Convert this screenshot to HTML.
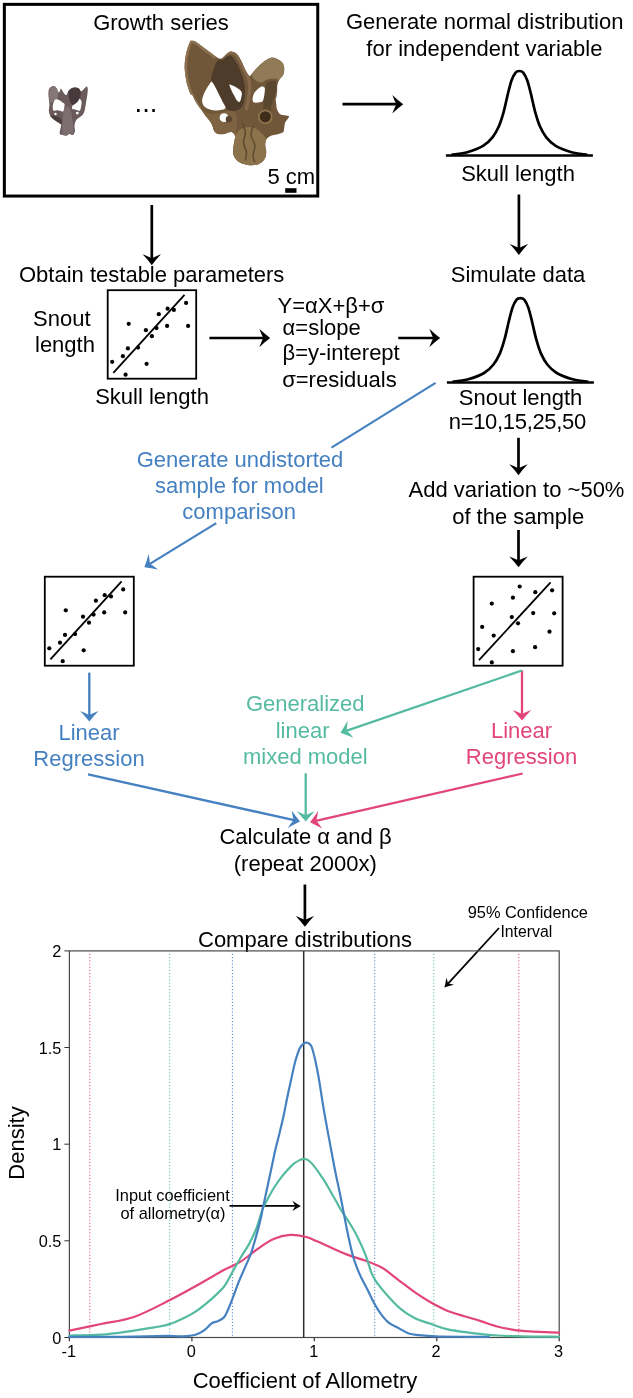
<!DOCTYPE html>
<html lang="en"><head><meta charset="utf-8"><title>Allometry simulation workflow</title>
<style>html,body{margin:0;padding:0;background:#fff}body{width:633px;height:1398px;overflow:hidden}svg{display:block}text{font-family:"Liberation Sans",sans-serif}</style></head><body>
<svg width="633" height="1398" viewBox="0 0 633 1398">
<rect width="633" height="1398" fill="#fff"/>
<rect x="4.35" y="4.35" width="313.4" height="191.7" fill="none" stroke="#000" stroke-width="3"/>
<text x="161.0" y="29.6" font-size="22.0" text-anchor="middle" fill="#000">Growth series</text>
<text x="134.6" y="112.0" font-size="27.5" text-anchor="start" fill="#000">...</text>
<text x="267.4" y="183.6" font-size="22.0" text-anchor="start" fill="#000">5 cm</text>
<rect x="285.2" y="188.2" width="11.3" height="4.6" fill="#000"/>
<g id="skull-large">
<clipPath id="skc"><path d="M190.4,40.7 C191.1,40.8 192.5,40.3 194.2,41.1 C196.0,41.9 198.5,43.8 200.9,45.4 C203.2,47.1 205.9,49.2 208.4,51.1 C211.0,53.0 214.0,55.5 216.0,56.8 C218.1,58.1 219.3,58.9 220.8,58.7 C222.2,58.5 223.3,56.9 224.5,55.9 C225.8,54.8 227.1,53.1 228.3,52.4 C229.6,51.7 230.7,51.4 232.1,51.7 C233.6,51.9 235.3,52.3 236.9,54.0 C238.5,55.6 240.2,58.9 241.6,61.5 C243.0,64.2 244.1,67.7 245.4,70.1 C246.7,72.4 248.2,75.0 249.2,75.8 C250.1,76.5 250.1,75.8 251.1,74.8 C252.0,73.9 253.5,71.7 254.9,70.1 C256.3,68.5 257.9,66.9 259.6,65.3 C261.4,63.8 263.4,61.9 265.3,60.6 C267.2,59.3 269.1,58.1 271.0,57.7 C272.9,57.4 274.8,57.9 276.7,58.7 C278.6,59.5 281.1,60.9 282.4,62.5 C283.6,64.1 284.1,66.1 284.3,68.2 C284.4,70.2 284.1,72.9 283.3,74.8 C282.5,76.7 280.5,77.9 279.5,79.5 C278.5,81.2 277.9,82.6 277.4,84.7 C277.0,86.7 277.3,89.7 277.1,91.9 C276.9,94.0 276.5,96.4 276.3,97.6 C276.1,98.7 275.7,97.6 275.7,98.8 C275.7,99.9 276.1,102.9 276.3,104.5 C276.5,106.1 276.3,106.9 276.7,108.3 C277.1,109.6 277.8,111.4 278.6,112.4 C279.4,113.5 280.2,114.2 281.4,114.7 C282.7,115.2 284.9,115.1 286.2,115.5 C287.4,115.8 289.2,115.6 289.0,116.8 C288.8,118.0 286.0,120.8 285.2,122.5 C284.4,124.2 284.6,125.6 284.3,127.2 C283.9,128.8 284.3,130.9 283.3,132.0 C282.4,133.1 280.6,133.2 278.6,133.9 C276.5,134.5 273.0,134.8 271.0,135.8 C268.9,136.7 267.2,138.0 266.3,139.5 C265.3,141.1 265.3,143.2 265.3,145.2 C265.3,147.3 266.4,149.6 266.3,151.9 C266.2,154.2 265.8,157.1 264.7,159.1 C263.7,161.0 262.0,162.4 260.0,163.4 C258.0,164.5 255.3,165.1 253.0,165.3 C250.7,165.6 248.8,165.4 246.4,164.8 C243.9,164.2 240.5,163.2 238.4,161.7 C236.3,160.3 234.7,158.0 233.8,156.0 C233.0,154.1 233.0,152.3 233.1,150.0 C233.1,147.7 233.7,144.8 234.0,142.4 C234.3,140.0 235.5,137.5 235.0,135.8 C234.5,134.0 232.9,132.3 231.2,132.0 C229.4,131.7 226.8,133.5 224.5,133.9 C222.3,134.2 219.7,134.3 217.9,133.9 C216.2,133.4 215.1,132.4 214.1,131.0 C213.2,129.6 213.0,127.1 212.2,125.3 C211.4,123.6 210.5,122.2 209.4,120.6 C208.3,119.0 207.0,117.7 205.6,115.9 C204.2,114.0 202.4,111.4 200.9,109.2 C199.3,107.0 197.5,105.0 196.1,102.6 C194.7,100.2 193.3,96.5 192.3,95.0 C191.4,93.5 191.4,95.9 190.4,93.8 C189.5,91.7 187.6,86.5 186.6,82.4 C185.7,78.3 185.0,73.2 184.7,69.1 C184.5,65.0 184.8,61.2 185.3,57.7 C185.8,54.3 186.7,51.1 187.6,48.3 C188.4,45.4 190.0,42.0 190.4,40.7 Z"/></clipPath>
<path d="M190.4,40.7 C191.1,40.8 192.5,40.3 194.2,41.1 C196.0,41.9 198.5,43.8 200.9,45.4 C203.2,47.1 205.9,49.2 208.4,51.1 C211.0,53.0 214.0,55.5 216.0,56.8 C218.1,58.1 219.3,58.9 220.8,58.7 C222.2,58.5 223.3,56.9 224.5,55.9 C225.8,54.8 227.1,53.1 228.3,52.4 C229.6,51.7 230.7,51.4 232.1,51.7 C233.6,51.9 235.3,52.3 236.9,54.0 C238.5,55.6 240.2,58.9 241.6,61.5 C243.0,64.2 244.1,67.7 245.4,70.1 C246.7,72.4 248.2,75.0 249.2,75.8 C250.1,76.5 250.1,75.8 251.1,74.8 C252.0,73.9 253.5,71.7 254.9,70.1 C256.3,68.5 257.9,66.9 259.6,65.3 C261.4,63.8 263.4,61.9 265.3,60.6 C267.2,59.3 269.1,58.1 271.0,57.7 C272.9,57.4 274.8,57.9 276.7,58.7 C278.6,59.5 281.1,60.9 282.4,62.5 C283.6,64.1 284.1,66.1 284.3,68.2 C284.4,70.2 284.1,72.9 283.3,74.8 C282.5,76.7 280.5,77.9 279.5,79.5 C278.5,81.2 277.9,82.6 277.4,84.7 C277.0,86.7 277.3,89.7 277.1,91.9 C276.9,94.0 276.5,96.4 276.3,97.6 C276.1,98.7 275.7,97.6 275.7,98.8 C275.7,99.9 276.1,102.9 276.3,104.5 C276.5,106.1 276.3,106.9 276.7,108.3 C277.1,109.6 277.8,111.4 278.6,112.4 C279.4,113.5 280.2,114.2 281.4,114.7 C282.7,115.2 284.9,115.1 286.2,115.5 C287.4,115.8 289.2,115.6 289.0,116.8 C288.8,118.0 286.0,120.8 285.2,122.5 C284.4,124.2 284.6,125.6 284.3,127.2 C283.9,128.8 284.3,130.9 283.3,132.0 C282.4,133.1 280.6,133.2 278.6,133.9 C276.5,134.5 273.0,134.8 271.0,135.8 C268.9,136.7 267.2,138.0 266.3,139.5 C265.3,141.1 265.3,143.2 265.3,145.2 C265.3,147.3 266.4,149.6 266.3,151.9 C266.2,154.2 265.8,157.1 264.7,159.1 C263.7,161.0 262.0,162.4 260.0,163.4 C258.0,164.5 255.3,165.1 253.0,165.3 C250.7,165.6 248.8,165.4 246.4,164.8 C243.9,164.2 240.5,163.2 238.4,161.7 C236.3,160.3 234.7,158.0 233.8,156.0 C233.0,154.1 233.0,152.3 233.1,150.0 C233.1,147.7 233.7,144.8 234.0,142.4 C234.3,140.0 235.5,137.5 235.0,135.8 C234.5,134.0 232.9,132.3 231.2,132.0 C229.4,131.7 226.8,133.5 224.5,133.9 C222.3,134.2 219.7,134.3 217.9,133.9 C216.2,133.4 215.1,132.4 214.1,131.0 C213.2,129.6 213.0,127.1 212.2,125.3 C211.4,123.6 210.5,122.2 209.4,120.6 C208.3,119.0 207.0,117.7 205.6,115.9 C204.2,114.0 202.4,111.4 200.9,109.2 C199.3,107.0 197.5,105.0 196.1,102.6 C194.7,100.2 193.3,96.5 192.3,95.0 C191.4,93.5 191.4,95.9 190.4,93.8 C189.5,91.7 187.6,86.5 186.6,82.4 C185.7,78.3 185.0,73.2 184.7,69.1 C184.5,65.0 184.8,61.2 185.3,57.7 C185.8,54.3 186.7,51.1 187.6,48.3 C188.4,45.4 190.0,42.0 190.4,40.7 Z" fill="#715739"/>
<g clip-path="url(#skc)">
<path d="M199.9,110.8 C198.3,108.0 192.6,98.5 190.4,93.8 C188.2,89.0 187.6,86.5 186.6,82.4 C185.7,78.3 185.0,73.2 184.7,69.1 C184.5,65.0 184.8,61.2 185.3,57.7 C185.8,54.3 186.7,51.1 187.6,48.3 C188.4,45.4 189.3,41.9 190.4,40.7 C191.5,39.5 192.5,40.3 194.2,41.1 C196.0,41.9 198.5,43.8 200.9,45.4 C203.2,47.1 205.9,49.2 208.4,51.1 C211.0,53.0 214.8,55.9 216.0,56.8" fill="none" stroke="#8d7050" stroke-width="5"/>
<path d="M200.9,109.2 C202.7,110.0 207.5,113.6 212.2,114.0 C217.0,114.3 225.2,110.8 229.3,111.1 C233.4,111.4 235.9,111.7 236.9,115.9 C237.8,120.0 235.9,133.1 235.0,135.8 C234.0,138.4 232.9,132.3 231.2,132.0 C229.4,131.7 226.8,133.5 224.5,133.9 C222.3,134.2 219.7,134.3 217.9,133.9 C216.2,133.4 215.1,132.4 214.1,131.0 C213.2,129.6 213.0,127.1 212.2,125.3 C211.4,123.6 211.3,123.3 209.4,120.6 C207.5,117.9 202.3,111.1 200.9,109.2 Z" fill="#7d6342"/>
<path d="M220.8,59.3 C220.1,59.6 218.1,59.9 217.0,61.5 C215.8,63.2 214.7,66.0 213.7,69.1 C212.8,72.3 210.6,76.4 211.3,80.5 C212.0,84.6 215.5,89.1 217.9,93.8 C220.3,98.4 222.3,105.8 225.5,108.6 C228.7,111.3 233.9,111.3 236.9,110.5 C239.9,109.6 242.2,107.3 243.5,103.2 C244.8,99.2 245.2,91.1 244.8,86.2 C244.5,81.3 242.9,77.7 241.6,73.9 C240.3,70.1 238.6,66.4 236.9,63.4 C235.1,60.4 233.1,57.0 231.2,55.9 C229.3,54.7 227.2,56.2 225.5,56.8 C223.8,57.4 221.5,58.9 220.8,59.3 Z" fill="#4e3c2b"/>
<path d="M222.1,58.1 C222.7,57.6 224.4,55.9 225.5,55.1 C226.6,54.2 227.7,53.5 228.9,53.0 C230.1,52.6 231.4,52.0 232.7,52.4 C234.0,52.9 235.5,53.8 236.9,55.5 C238.3,57.1 239.7,59.9 241.0,62.5 C242.4,65.1 243.6,68.5 244.8,71.0 C246.0,73.5 247.4,75.1 248.2,77.7 C249.1,80.2 249.7,82.9 249.8,86.2 C249.8,89.5 249.2,93.8 248.6,97.6 C248.1,101.4 246.7,107.0 246.4,108.9" fill="none" stroke="#86694a" stroke-width="3.2" stroke-linecap="round"/>
<path d="M254.9,70.1 C255.7,69.3 257.9,66.9 259.6,65.3 C261.4,63.8 263.4,61.9 265.3,60.6 C267.2,59.3 269.1,58.1 271.0,57.7 C272.9,57.4 274.8,57.9 276.7,58.7 C278.6,59.5 281.1,60.9 282.4,62.5 C283.6,64.1 284.1,66.1 284.3,68.2 C284.4,70.2 284.1,72.9 283.3,74.8 C282.5,76.7 280.9,78.9 279.5,79.5 C278.1,80.2 276.8,78.6 274.8,78.6 C272.7,78.6 269.4,78.9 267.2,79.5 C265.0,80.2 263.4,82.2 261.5,82.4 C259.6,82.6 257.4,81.6 255.8,80.5 C254.2,79.4 252.2,77.5 252.0,75.8 C251.9,74.0 254.4,71.0 254.9,70.1 Z" fill="#917a58"/>
<path d="M266.3,82.4 C267.7,82.1 273.0,80.0 274.8,80.5 C276.5,81.0 276.5,83.3 276.7,85.2 C276.8,87.1 276.2,89.7 275.7,91.9 C275.3,94.1 274.6,96.0 273.8,98.5 C273.0,101.0 271.8,104.4 271.0,107.0 C270.2,109.7 270.4,113.4 269.1,114.6 C267.8,115.9 264.4,116.2 263.4,114.6 C262.5,113.0 263.3,108.6 263.4,105.1 C263.6,101.7 263.9,97.6 264.4,93.8 C264.8,90.0 265.9,84.3 266.3,82.4 Z" fill="#5b4630"/>
<path d="M235.0,135.8 C235.9,134.7 237.8,130.5 240.7,129.1 C243.5,127.7 248.6,126.6 252.0,127.2 C255.5,127.9 259.1,130.9 261.5,132.9 C263.9,135.0 265.6,137.5 266.3,139.5 C266.9,141.6 265.3,143.2 265.3,145.2 C265.3,147.3 266.4,149.6 266.3,151.9 C266.2,154.2 265.8,157.1 264.7,159.1 C263.7,161.0 262.0,162.4 260.0,163.4 C258.0,164.5 255.3,165.1 253.0,165.3 C250.7,165.6 248.8,165.4 246.4,164.8 C243.9,164.2 240.5,163.2 238.4,161.7 C236.3,160.3 234.7,158.0 233.8,156.0 C233.0,154.1 233.0,152.3 233.1,150.0 C233.1,147.7 233.7,144.8 234.0,142.4 C234.3,140.0 234.8,136.9 235.0,135.8 Z" fill="#8c734c"/>
<path d="M242.6,123.4 C243.0,125.0 245.2,129.8 245.4,132.9 C245.6,136.1 243.3,139.2 243.5,142.4 C243.7,145.6 246.0,148.9 246.4,151.9 C246.7,154.9 245.6,159.0 245.4,160.4" fill="none" stroke="#5e4a30" stroke-width="1.6"/>
<path d="M253.0,125.3 C252.7,127.1 250.8,132.4 251.1,135.8 C251.4,139.1 254.6,141.9 254.9,145.2 C255.2,148.6 253.0,152.8 253.0,155.7 C253.0,158.5 254.6,161.2 254.9,162.3" fill="none" stroke="#5e4a30" stroke-width="1.4"/>
</g>
<path d="M211.4,81.4 C210.6,82.4 208.4,85.5 207.1,87.8 C205.8,90.0 204.4,92.7 203.5,94.9 C202.7,97.0 202.1,98.8 202.1,100.6 C202.1,102.3 202.5,104.1 203.5,105.5 C204.6,106.9 206.6,108.3 208.5,109.1 C210.4,109.9 212.7,110.4 214.9,110.5 C217.2,110.6 220.2,110.3 222.0,109.8 C223.8,109.3 225.5,109.0 225.6,107.7 C225.7,106.4 223.8,104.1 222.7,102.0 C221.7,99.8 220.4,97.2 219.2,94.9 C218.0,92.5 216.7,89.8 215.6,87.8 C214.6,85.7 213.5,83.8 212.8,82.8 C212.1,81.7 211.6,81.6 211.4,81.4 Z" fill="#fff"/>
<path d="M229.1,84.2 C229.5,85.1 230.4,88.0 231.3,89.9 C232.1,91.8 233.2,93.8 234.1,95.6 C235.1,97.3 236.0,99.5 236.9,100.6 C237.9,101.6 239.1,102.2 239.8,101.7 C240.5,101.2 240.9,99.1 241.2,97.7 C241.6,96.3 242.0,94.6 241.9,93.4 C241.8,92.3 241.3,91.5 240.5,90.6 C239.7,89.7 238.2,88.6 236.9,87.8 C235.6,86.9 234.0,86.2 232.7,85.6 C231.4,85.0 229.7,84.4 229.1,84.2 Z" fill="#fff"/>
<path d="M261.8,86.3 C261.1,86.8 258.9,88.0 257.6,89.2 C256.3,90.4 254.8,91.9 254.0,93.4 C253.2,95.0 252.7,97.0 252.6,98.4 C252.5,99.8 252.7,101.3 253.3,102.0 C253.9,102.7 255.1,102.6 256.1,102.7 C257.2,102.7 258.6,102.5 259.7,102.3 C260.8,102.0 261.8,102.1 262.5,101.3 C263.3,100.4 263.6,98.5 264.0,97.0 C264.3,95.5 264.5,93.6 264.7,92.0 C264.8,90.5 265.1,88.7 264.7,87.8 C264.2,86.8 262.3,86.6 261.8,86.3 Z" fill="#fff"/>
<circle cx="224.0" cy="117.7" r="4.4" fill="#fff"/>
<circle cx="228.9" cy="119.3" r="3.2" fill="#5a4630"/>
<circle cx="265.3" cy="116.8" r="6.4" fill="#3f2d1c" stroke="#93784f" stroke-width="1.6"/>
</g>
<g id="skull-small">
<path d="M50.8,87.0 C51.3,86.8 52.7,85.9 53.6,86.1 C54.6,86.2 55.7,86.9 56.5,88.0 C57.3,89.0 57.8,91.7 58.4,92.2 C58.9,92.8 59.4,91.9 59.8,91.3 C60.2,90.6 60.4,88.6 60.7,88.4 C61.1,88.3 61.6,89.5 62.2,90.3 C62.7,91.2 63.4,92.8 64.1,93.6 C64.8,94.4 65.7,95.5 66.4,95.1 C67.1,94.7 67.5,92.4 68.3,91.3 C69.1,90.2 70.1,89.1 71.2,88.4 C72.3,87.8 73.7,87.5 75.0,87.5 C76.2,87.5 77.7,87.8 78.8,88.4 C79.8,89.1 80.3,91.1 81.1,91.3 C81.9,91.4 82.5,90.2 83.5,89.4 C84.4,88.6 86.1,86.5 86.8,86.5 C87.5,86.5 87.7,88.0 87.8,89.4 C87.8,90.8 87.5,93.2 87.3,95.1 C87.1,97.0 86.7,98.9 86.3,100.7 C86.0,102.6 85.7,104.7 85.4,106.4 C85.1,108.2 84.9,109.8 84.4,111.2 C84.0,112.6 83.5,113.9 82.5,115.0 C81.6,116.1 79.9,116.9 78.8,117.8 C77.7,118.8 76.6,119.4 75.9,120.7 C75.2,121.9 74.7,123.7 74.5,125.4 C74.3,127.1 75.2,129.5 75.0,131.1 C74.7,132.7 74.0,134.4 73.1,134.9 C72.1,135.3 70.4,133.8 69.3,133.9 C68.2,134.1 67.5,135.7 66.4,135.8 C65.3,136.0 63.8,135.2 62.6,134.9 C61.5,134.6 60.2,134.9 59.8,133.9 C59.4,133.0 60.0,130.8 60.3,129.2 C60.5,127.6 61.5,125.6 61.2,124.4 C60.9,123.3 59.6,123.3 58.4,122.5 C57.2,121.8 55.5,120.8 54.1,119.7 C52.8,118.6 51.2,117.3 50.3,115.9 C49.5,114.5 49.1,112.9 48.9,111.2 C48.7,109.4 49.4,107.4 49.4,105.5 C49.4,103.6 49.1,101.7 48.9,99.8 C48.7,97.9 48.4,95.9 48.4,94.1 C48.4,92.4 48.5,90.6 48.9,89.4 C49.3,88.2 50.5,87.4 50.8,87.0 Z" fill="#6a5a5c"/>
<path d="M68.3,91.3 C68.8,90.8 70.1,89.1 71.2,88.4 C72.3,87.8 73.7,87.5 75.0,87.5 C76.2,87.5 77.8,87.6 78.8,88.4 C79.7,89.2 80.5,90.6 80.7,92.2 C80.8,93.9 80.3,96.6 79.7,98.4 C79.1,100.1 77.9,101.5 76.9,102.6 C75.8,103.8 74.5,104.9 73.5,105.0 C72.6,105.2 71.9,104.6 71.2,103.6 C70.5,102.6 69.8,100.9 69.3,98.9 C68.8,96.8 68.5,92.5 68.3,91.3 Z" fill="#463a3d"/>
<path d="M50.8,87.5 C51.3,87.3 52.7,86.4 53.6,86.5 C54.6,86.7 55.7,87.4 56.5,88.4 C57.2,89.5 57.9,91.0 58.1,92.7 C58.3,94.4 58.0,97.3 57.4,98.4 C56.8,99.5 55.5,98.6 54.6,99.3 C53.7,100.0 53.0,102.2 52.2,102.6 C51.4,103.0 50.4,103.1 49.8,101.7 C49.3,100.3 49.0,96.5 49.2,94.1 C49.3,91.7 50.5,88.6 50.8,87.5 Z" fill="#857679"/>
<path d="M63.6,109.3 C64.2,108.8 66.2,106.3 67.4,106.4 C68.6,106.6 69.9,108.3 70.7,110.2 C71.5,112.1 71.7,115.3 72.1,117.8 C72.5,120.3 72.8,122.9 73.1,125.4 C73.3,127.9 74.2,131.6 73.5,133.0 C72.9,134.3 70.5,133.1 69.3,133.5 C68.1,133.8 67.5,134.8 66.4,134.9 C65.4,135.0 63.5,135.5 62.8,133.9 C62.1,132.3 62.2,128.1 62.2,125.4 C62.2,122.7 62.6,120.5 62.8,117.8 C63.1,115.1 63.5,110.7 63.6,109.3 Z" fill="#7d6e70"/>
<path d="M50.3,115.9 C51.0,116.5 52.8,118.6 54.1,119.7 C55.5,120.8 57.2,121.8 58.4,122.5 C59.6,123.3 60.7,124.9 61.2,124.4 C61.8,124.0 62.2,121.0 61.7,119.7 C61.2,118.4 59.6,117.6 58.4,116.9 C57.1,116.2 55.5,115.6 54.1,115.4 C52.8,115.3 51.0,115.8 50.3,115.9 Z" fill="#4b3e41"/>
<path d="M54.6,99.8 C54.4,100.4 53.5,102.3 53.2,103.6 C52.8,104.9 52.6,106.2 52.7,107.4 C52.8,108.6 52.9,110.2 53.6,110.7 C54.4,111.2 55.9,110.2 57.0,110.2 C58.1,110.2 59.2,110.5 60.3,110.7 C61.3,110.9 62.5,112.0 63.1,111.6 C63.8,111.3 63.8,109.6 64.1,108.3 C64.3,107.1 64.9,105.1 64.5,104.1 C64.2,103.0 63.0,102.8 62.2,102.2 C61.3,101.5 60.3,100.7 59.3,100.3 C58.4,99.8 57.3,99.4 56.5,99.3 C55.7,99.2 54.9,99.7 54.6,99.8 Z" fill="#fff"/>
<path d="M79.7,98.4 C79.2,99.1 77.9,101.5 76.9,102.6 C75.8,103.8 74.3,104.4 73.5,105.0 C72.8,105.6 72.3,105.7 72.1,106.4 C72.0,107.1 72.0,108.7 72.6,109.3 C73.2,109.8 74.7,109.5 75.9,109.8 C77.1,110.0 78.8,111.3 79.7,110.7 C80.6,110.1 80.8,107.9 81.1,106.4 C81.4,104.9 81.8,103.0 81.6,101.7 C81.4,100.4 80.0,98.9 79.7,98.4 Z" fill="#fff"/>
<circle cx="55.5" cy="114.0" r="1.2" fill="#fff"/>
<circle cx="77.3" cy="113.1" r="1.4" fill="#fff"/>
</g>
<path d="M451.5,154.8 C454.1,154.3 462.0,153.7 467.3,152.2 C472.5,150.8 478.9,148.4 483.1,145.9 C487.3,143.4 489.9,140.7 492.5,137.4 C495.2,134.1 497.0,130.5 498.9,126.3 C500.7,122.1 502.1,117.4 503.6,112.1 C505.1,106.8 506.4,100.0 507.7,94.7 C509.0,89.5 510.2,84.2 511.5,80.5 C512.8,76.8 514.3,74.2 515.6,72.6 C516.9,71.0 518.1,71.0 519.4,71.0 C520.7,71.0 521.9,71.0 523.2,72.6 C524.5,74.2 526.0,76.8 527.3,80.5 C528.6,84.2 529.8,89.5 531.1,94.7 C532.4,100.0 533.7,106.8 535.2,112.1 C536.7,117.4 538.1,122.1 539.9,126.3 C541.8,130.5 543.6,134.1 546.3,137.4 C548.9,140.7 551.5,143.4 555.7,145.9 C559.9,148.4 566.3,150.8 571.5,152.2 C576.8,153.7 584.7,154.3 587.3,154.8" fill="none" stroke="#000" stroke-width="2.7" stroke-linejoin="round"/>
<line x1="445.9" y1="155.4" x2="592.9" y2="155.4" stroke="#000" stroke-width="2.5"/>
<path d="M452.5,381.9 C455.1,381.4 463.0,380.8 468.3,379.3 C473.5,377.9 479.9,375.5 484.1,373.0 C488.3,370.5 490.9,367.8 493.5,364.5 C496.2,361.2 498.0,357.6 499.9,353.4 C501.7,349.2 503.1,344.5 504.6,339.2 C506.1,333.9 507.4,327.1 508.7,321.8 C510.0,316.6 511.2,311.3 512.5,307.6 C513.8,303.9 515.3,301.3 516.6,299.7 C517.9,298.1 519.1,298.1 520.4,298.1 C521.7,298.1 522.9,298.1 524.2,299.7 C525.5,301.3 527.0,303.9 528.3,307.6 C529.6,311.3 530.8,316.6 532.1,321.8 C533.4,327.1 534.7,333.9 536.2,339.2 C537.7,344.5 539.1,349.2 540.9,353.4 C542.8,357.6 544.6,361.2 547.3,364.5 C549.9,367.8 552.5,370.5 556.7,373.0 C560.9,375.5 567.3,377.9 572.5,379.3 C577.8,380.8 585.7,381.4 588.3,381.9" fill="none" stroke="#000" stroke-width="2.7" stroke-linejoin="round"/>
<line x1="446.9" y1="382.5" x2="593.9" y2="382.5" stroke="#000" stroke-width="2.5"/>
<text x="484.7" y="29.4" font-size="22.0" text-anchor="middle" fill="#000">Generate normal distribution</text>
<text x="484.4" y="56.0" font-size="22.0" text-anchor="middle" fill="#000">for independent variable</text>
<text x="518.0" y="180.5" font-size="22.0" text-anchor="middle" fill="#000">Skull length</text>
<text x="19.0" y="282.0" font-size="22.0" text-anchor="start" fill="#000">Obtain testable parameters</text>
<text x="518.0" y="282.0" font-size="22.0" text-anchor="middle" fill="#000">Simulate data</text>
<text x="33.0" y="325.7" font-size="22.0" text-anchor="start" fill="#000">Snout</text>
<text x="35.0" y="352.3" font-size="22.0" text-anchor="start" fill="#000">length</text>
<text x="152.0" y="404.0" font-size="22.0" text-anchor="middle" fill="#000">Skull length</text>
<text x="277.5" y="313.1" font-size="22.0" text-anchor="start" fill="#000">Y=αX+β+σ</text>
<text x="282.6" y="335.1" font-size="22.0" text-anchor="start" fill="#000">α=slope</text>
<text x="282.5" y="360.4" font-size="22.0" text-anchor="start" fill="#000">β=y-interept</text>
<text x="282.2" y="386.5" font-size="22.0" text-anchor="start" fill="#000">σ=residuals</text>
<text x="520.6" y="404.6" font-size="22.0" text-anchor="middle" fill="#000">Snout length</text>
<text x="517.5" y="428.6" font-size="22.0" text-anchor="middle" fill="#000" textLength="137.5">n=10,15,25,50</text>
<text x="240.0" y="466.5" font-size="22.0" text-anchor="middle" fill="#4580c0">Generate undistorted</text>
<text x="239.4" y="492.5" font-size="22.0" text-anchor="middle" fill="#4580c0">sample for model</text>
<text x="239.2" y="519.3" font-size="22.0" text-anchor="middle" fill="#4580c0">comparison</text>
<text x="516.5" y="497.0" font-size="22.0" text-anchor="middle" fill="#000">Add variation to ~50%</text>
<text x="518.2" y="523.6" font-size="22.0" text-anchor="middle" fill="#000">of the sample</text>
<text x="89.0" y="739.6" font-size="22.0" text-anchor="middle" fill="#4580c0">Linear</text>
<text x="89.0" y="766.0" font-size="22.0" text-anchor="middle" fill="#4580c0">Regression</text>
<text x="305.3" y="711.2" font-size="22.0" text-anchor="middle" fill="#55bba0">Generalized</text>
<text x="302.6" y="738.0" font-size="22.0" text-anchor="middle" fill="#55bba0">linear</text>
<text x="305.3" y="764.3" font-size="22.0" text-anchor="middle" fill="#55bba0">mixed model</text>
<text x="521.5" y="738.3" font-size="22.0" text-anchor="middle" fill="#e2457b">Linear</text>
<text x="521.5" y="763.8" font-size="22.0" text-anchor="middle" fill="#e2457b">Regression</text>
<text x="305.5" y="844.0" font-size="22.0" text-anchor="middle" fill="#000">Calculate α and β</text>
<text x="305.3" y="870.5" font-size="22.0" text-anchor="middle" fill="#000">(repeat 2000x)</text>
<text x="305.0" y="947.0" font-size="22.0" text-anchor="middle" fill="#000">Compare distributions</text>
<text x="527.8" y="917.5" font-size="16.4" text-anchor="middle" fill="#000">95% Confidence</text>
<text x="526.3" y="937.3" font-size="15.8" text-anchor="middle" fill="#000">Interval</text>
<text x="172.5" y="1200.6" font-size="16.4" text-anchor="middle" fill="#000">Input coefficient</text>
<text x="173.0" y="1218.9" font-size="16.4" text-anchor="middle" fill="#000">of allometry(α)</text>
<text x="305.0" y="1388.0" font-size="22.0" text-anchor="middle" fill="#000">Coefficient of Allometry</text>
<text transform="translate(23.6,1143) rotate(-90)" font-size="22" text-anchor="middle">Density</text>
<g transform="translate(107.7,290.2)">
<rect x="0" y="0" width="88.5" height="88.5" fill="#fff" stroke="#000" stroke-width="1.8"/>
<line x1="5.6" y1="82.7" x2="76.8" y2="4.6" stroke="#000" stroke-width="1.8"/>
<circle cx="78.4" cy="12.7" r="2.1" fill="#000"/>
<circle cx="59.9" cy="18.5" r="2.1" fill="#000"/>
<circle cx="66.2" cy="19.7" r="2.1" fill="#000"/>
<circle cx="51.1" cy="24.0" r="2.1" fill="#000"/>
<circle cx="21.0" cy="33.6" r="2.1" fill="#000"/>
<circle cx="59.4" cy="35.7" r="2.1" fill="#000"/>
<circle cx="80.4" cy="35.7" r="2.1" fill="#000"/>
<circle cx="38.2" cy="40.0" r="2.1" fill="#000"/>
<circle cx="48.8" cy="37.9" r="2.1" fill="#000"/>
<circle cx="44.2" cy="46.0" r="2.1" fill="#000"/>
<circle cx="20.2" cy="58.2" r="2.1" fill="#000"/>
<circle cx="30.3" cy="57.4" r="2.1" fill="#000"/>
<circle cx="15.2" cy="66.0" r="2.1" fill="#000"/>
<circle cx="4.5" cy="71.6" r="2.1" fill="#000"/>
<circle cx="38.9" cy="73.6" r="2.1" fill="#000"/>
<circle cx="17.9" cy="84.5" r="2.1" fill="#000"/>
</g>
<g transform="translate(44.8,576.7)">
<rect x="0" y="0" width="89.0" height="89.0" fill="#fff" stroke="#000" stroke-width="1.8"/>
<line x1="5.6" y1="82.7" x2="76.8" y2="4.6" stroke="#000" stroke-width="1.8"/>
<circle cx="78.4" cy="12.7" r="2.1" fill="#000"/>
<circle cx="59.9" cy="18.5" r="2.1" fill="#000"/>
<circle cx="66.2" cy="19.7" r="2.1" fill="#000"/>
<circle cx="51.1" cy="24.0" r="2.1" fill="#000"/>
<circle cx="21.0" cy="33.6" r="2.1" fill="#000"/>
<circle cx="59.4" cy="35.7" r="2.1" fill="#000"/>
<circle cx="80.4" cy="35.7" r="2.1" fill="#000"/>
<circle cx="38.2" cy="40.0" r="2.1" fill="#000"/>
<circle cx="48.8" cy="37.9" r="2.1" fill="#000"/>
<circle cx="44.2" cy="46.0" r="2.1" fill="#000"/>
<circle cx="20.2" cy="58.2" r="2.1" fill="#000"/>
<circle cx="30.3" cy="57.4" r="2.1" fill="#000"/>
<circle cx="15.2" cy="66.0" r="2.1" fill="#000"/>
<circle cx="4.5" cy="71.6" r="2.1" fill="#000"/>
<circle cx="38.9" cy="73.6" r="2.1" fill="#000"/>
<circle cx="17.9" cy="84.5" r="2.1" fill="#000"/>
</g>
<g transform="translate(473.6,576.7)">
<rect x="0" y="0" width="89.0" height="89.0" fill="#fff" stroke="#000" stroke-width="1.8"/>
<line x1="5.4" y1="83.4" x2="77.0" y2="5.7" stroke="#000" stroke-width="1.8"/>
<circle cx="46.1" cy="9.8" r="2.1" fill="#000"/>
<circle cx="61.7" cy="15.5" r="2.1" fill="#000"/>
<circle cx="78.5" cy="13.6" r="2.1" fill="#000"/>
<circle cx="39.3" cy="21.0" r="2.1" fill="#000"/>
<circle cx="18.2" cy="26.9" r="2.1" fill="#000"/>
<circle cx="59.6" cy="36.4" r="2.1" fill="#000"/>
<circle cx="80.6" cy="36.6" r="2.1" fill="#000"/>
<circle cx="38.2" cy="40.4" r="2.1" fill="#000"/>
<circle cx="44.4" cy="46.6" r="2.1" fill="#000"/>
<circle cx="8.6" cy="50.2" r="2.1" fill="#000"/>
<circle cx="75.9" cy="55.0" r="2.1" fill="#000"/>
<circle cx="20.1" cy="58.9" r="2.1" fill="#000"/>
<circle cx="61.5" cy="70.5" r="2.1" fill="#000"/>
<circle cx="4.6" cy="72.4" r="2.1" fill="#000"/>
<circle cx="39.3" cy="74.5" r="2.1" fill="#000"/>
<circle cx="18.2" cy="85.7" r="2.1" fill="#000"/>
</g>
<line x1="342.5" y1="104.2" x2="396.8" y2="104.2" stroke="#000" stroke-width="2.70"/>
<path d="M403.2,104.2 Q397.8,108.1 392.3,113.4 Q394.3,108.1 396.3,104.2 Q394.3,100.3 392.3,95.0 Q397.8,100.3 403.2,104.2 Z" fill="#000"/>
<line x1="151.8" y1="205.0" x2="151.8" y2="258.8" stroke="#000" stroke-width="2.70"/>
<path d="M151.8,265.2 Q147.9,259.8 142.6,254.3 Q147.9,256.3 151.8,258.3 Q155.7,256.3 161.0,254.3 Q155.7,259.8 151.8,265.2 Z" fill="#000"/>
<line x1="518.9" y1="194.5" x2="518.9" y2="248.6" stroke="#000" stroke-width="2.70"/>
<path d="M518.9,255.0 Q515.0,249.6 509.7,244.1 Q515.0,246.1 518.9,248.1 Q522.8,246.1 528.1,244.1 Q522.8,249.6 518.9,255.0 Z" fill="#000"/>
<line x1="209.4" y1="338.0" x2="263.8" y2="338.0" stroke="#000" stroke-width="2.70"/>
<path d="M270.2,338.0 Q264.8,341.9 259.3,347.2 Q261.3,341.9 263.3,338.0 Q261.3,334.1 259.3,328.8 Q264.8,334.1 270.2,338.0 Z" fill="#000"/>
<line x1="398.3" y1="338.0" x2="433.8" y2="338.0" stroke="#000" stroke-width="2.70"/>
<path d="M440.2,338.0 Q434.8,341.9 429.3,347.2 Q431.3,341.9 433.3,338.0 Q431.3,334.1 429.3,328.8 Q434.8,334.1 440.2,338.0 Z" fill="#000"/>
<line x1="518.5" y1="437.8" x2="518.5" y2="468.8" stroke="#000" stroke-width="2.70"/>
<path d="M518.5,475.2 Q514.6,469.8 509.3,464.3 Q514.6,466.3 518.5,468.3 Q522.4,466.3 527.7,464.3 Q522.4,469.8 518.5,475.2 Z" fill="#000"/>
<line x1="518.5" y1="530.0" x2="518.5" y2="560.9" stroke="#000" stroke-width="2.70"/>
<path d="M518.5,567.3 Q514.6,561.8 509.3,556.4 Q514.6,558.4 518.5,560.4 Q522.4,558.4 527.7,556.4 Q522.4,561.8 518.5,567.3 Z" fill="#000"/>
<line x1="435.6" y1="382.8" x2="331.5" y2="447.6" stroke="#4580c0" stroke-width="2.1"/>
<line x1="216.3" y1="523.1" x2="149.5" y2="564.1" stroke="#4580c0" stroke-width="2.20"/>
<path d="M144.4,567.2 Q146.7,560.9 148.6,554.0 Q149.7,559.5 149.9,563.8 Q153.6,566.0 158.1,569.4 Q151.0,568.0 144.4,567.2 Z" fill="#4580c0"/>
<line x1="89.3" y1="672.6" x2="89.3" y2="715.5" stroke="#4580c0" stroke-width="2.30"/>
<path d="M89.3,721.5 Q85.1,716.2 80.1,711.0 Q85.4,713.0 89.3,715.0 Q93.2,713.0 98.5,711.0 Q93.5,716.2 89.3,721.5 Z" fill="#4580c0"/>
<line x1="522.0" y1="670.5" x2="522.0" y2="714.6" stroke="#e2457b" stroke-width="2.30"/>
<path d="M522.0,720.6 Q517.8,715.4 512.8,710.1 Q518.1,712.1 522.0,714.1 Q525.9,712.1 531.2,710.1 Q526.2,715.4 522.0,720.6 Z" fill="#e2457b"/>
<line x1="522.0" y1="670.5" x2="346.2" y2="730.8" stroke="#55bba0" stroke-width="2.30"/>
<path d="M340.5,732.7 Q344.1,727.1 347.5,720.8 Q347.3,726.4 346.6,730.6 Q349.8,733.5 353.4,737.8 Q346.8,734.9 340.5,732.7 Z" fill="#55bba0"/>
<line x1="305.7" y1="773.3" x2="305.7" y2="815.8" stroke="#55bba0" stroke-width="2.30"/>
<path d="M305.7,821.6 Q301.6,816.5 296.7,811.3 Q301.9,813.3 305.7,815.3 Q309.5,813.3 314.7,811.3 Q309.8,816.5 305.7,821.6 Z" fill="#55bba0"/>
<line x1="88.0" y1="774.3" x2="294.1" y2="820.2" stroke="#4580c0" stroke-width="2.30"/>
<path d="M300.0,821.5 Q294.0,824.4 287.8,828.0 Q290.9,823.3 293.7,820.1 Q292.5,816.0 291.7,810.4 Q295.8,816.3 300.0,821.5 Z" fill="#4580c0"/>
<line x1="522.6" y1="773.5" x2="315.8" y2="820.9" stroke="#e2457b" stroke-width="2.30"/>
<path d="M310.0,822.2 Q314.2,817.0 318.2,811.1 Q317.4,816.6 316.3,820.7 Q319.1,824.0 322.2,828.6 Q316.0,825.1 310.0,822.2 Z" fill="#e2457b"/>
<line x1="304.9" y1="884.5" x2="304.9" y2="920.4" stroke="#000" stroke-width="2.70"/>
<path d="M304.9,926.8 Q301.0,921.3 295.7,915.9 Q301.0,917.9 304.9,919.9 Q308.8,917.9 314.1,915.9 Q308.8,921.3 304.9,926.8 Z" fill="#000"/>
<line x1="499.0" y1="928.0" x2="447.8" y2="983.8" stroke="#000" stroke-width="1.80"/>
<path d="M444.4,987.5 Q445.7,982.9 446.3,977.7 Q447.5,980.9 448.1,983.4 Q450.7,983.8 454.0,984.8 Q448.9,985.8 444.4,987.5 Z" fill="#000"/>
<line x1="229.5" y1="1205.9" x2="295.9" y2="1205.9" stroke="#000" stroke-width="1.80"/>
<path d="M300.9,1205.9 Q296.6,1208.1 292.4,1211.1 Q293.9,1208.1 295.4,1205.9 Q293.9,1203.7 292.4,1200.7 Q296.6,1203.7 300.9,1205.9 Z" fill="#000"/>
<rect x="69.4" y="950.9" width="489.8" height="386.6" fill="none" stroke="#4a4a4a" stroke-width="1.2"/>
<line x1="64.4" y1="1337.5" x2="69.4" y2="1337.5" stroke="#333" stroke-width="1"/>
<text x="61.4" y="1343.5" font-size="16.3" text-anchor="end" fill="#000">0</text>
<line x1="64.4" y1="1240.8" x2="69.4" y2="1240.8" stroke="#333" stroke-width="1"/>
<text x="61.4" y="1246.8" font-size="16.3" text-anchor="end" fill="#000">0.5</text>
<line x1="64.4" y1="1144.2" x2="69.4" y2="1144.2" stroke="#333" stroke-width="1"/>
<text x="61.4" y="1150.2" font-size="16.3" text-anchor="end" fill="#000">1</text>
<line x1="64.4" y1="1047.5" x2="69.4" y2="1047.5" stroke="#333" stroke-width="1"/>
<text x="61.4" y="1053.5" font-size="16.3" text-anchor="end" fill="#000">1.5</text>
<line x1="64.4" y1="950.9" x2="69.4" y2="950.9" stroke="#333" stroke-width="1"/>
<text x="61.4" y="956.9" font-size="16.3" text-anchor="end" fill="#000">2</text>
<line x1="69.4" y1="1337.5" x2="69.4" y2="1341.3" stroke="#333" stroke-width="1.2"/>
<text x="68.8" y="1356.5" font-size="16.3" text-anchor="middle" fill="#000">-1</text>
<line x1="191.9" y1="1337.5" x2="191.9" y2="1341.3" stroke="#333" stroke-width="1.2"/>
<text x="191.3" y="1356.5" font-size="16.3" text-anchor="middle" fill="#000">0</text>
<line x1="314.3" y1="1337.5" x2="314.3" y2="1341.3" stroke="#333" stroke-width="1.2"/>
<text x="313.7" y="1356.5" font-size="16.3" text-anchor="middle" fill="#000">1</text>
<line x1="436.8" y1="1337.5" x2="436.8" y2="1341.3" stroke="#333" stroke-width="1.2"/>
<text x="436.1" y="1356.5" font-size="16.3" text-anchor="middle" fill="#000">2</text>
<line x1="559.2" y1="1337.5" x2="559.2" y2="1341.3" stroke="#333" stroke-width="1.2"/>
<text x="558.6" y="1356.5" font-size="16.3" text-anchor="middle" fill="#000">3</text>
<line x1="303.7" y1="950.9" x2="303.7" y2="1337.5" stroke="#2e2e2e" stroke-width="1.5"/>
<line x1="89.8" y1="953.9" x2="89.8" y2="1337.5" stroke="#e2457b" stroke-width="0.95" stroke-dasharray="1.2 2"/>
<line x1="169.7" y1="953.9" x2="169.7" y2="1337.5" stroke="#55bba0" stroke-width="0.95" stroke-dasharray="1.2 2"/>
<line x1="232.4" y1="953.9" x2="232.4" y2="1337.5" stroke="#4580c0" stroke-width="0.95" stroke-dasharray="1.2 2"/>
<line x1="374.7" y1="953.9" x2="374.7" y2="1337.5" stroke="#4580c0" stroke-width="0.95" stroke-dasharray="1.2 2"/>
<line x1="433.8" y1="953.9" x2="433.8" y2="1337.5" stroke="#55bba0" stroke-width="0.95" stroke-dasharray="1.2 2"/>
<line x1="518.8" y1="953.9" x2="518.8" y2="1337.5" stroke="#e2457b" stroke-width="0.95" stroke-dasharray="1.2 2"/>
<path d="M69.4,1330.6 C74.7,1329.5 90.3,1326.3 101.1,1324.0 C111.8,1321.8 122.6,1320.9 133.9,1317.0 C145.2,1313.1 158.6,1305.7 168.8,1300.6 C179.1,1295.5 186.3,1291.4 195.5,1286.2 C204.8,1281.1 216.7,1273.9 224.3,1269.8 C231.8,1265.7 235.2,1265.0 240.7,1261.6 C246.2,1258.2 251.6,1253.0 257.1,1249.3 C262.6,1245.5 268.1,1241.4 273.6,1239.0 C279.0,1236.6 284.5,1235.2 290.0,1234.9 C295.5,1234.6 302.0,1235.9 306.4,1237.0 C310.8,1238.0 312.0,1239.2 316.4,1241.1 C320.8,1243.0 327.4,1246.1 332.9,1248.5 C338.3,1250.9 343.8,1253.4 349.3,1255.4 C354.8,1257.5 360.2,1258.7 365.7,1260.8 C371.2,1262.8 376.7,1264.5 382.1,1267.8 C387.6,1271.0 393.1,1276.0 398.6,1280.1 C404.0,1284.2 409.5,1288.6 415.0,1292.4 C420.5,1296.2 425.9,1299.6 431.4,1302.7 C436.9,1305.7 442.4,1308.6 447.8,1310.9 C453.3,1313.1 458.8,1314.5 464.3,1316.2 C469.7,1317.9 475.2,1319.4 480.7,1321.1 C486.2,1322.9 491.6,1325.1 497.1,1326.5 C502.6,1327.9 508.1,1329.0 513.6,1329.8 C519.0,1330.6 524.5,1331.0 530.0,1331.4 C535.5,1331.8 541.5,1332.0 546.4,1332.2 C551.3,1332.4 557.0,1332.6 559.1,1332.6" fill="none" stroke="#e2457b" stroke-width="2.2" stroke-linejoin="round" stroke-linecap="round"/>
<path d="M69.4,1335.5 C74.7,1335.4 90.3,1335.5 101.1,1334.7 C111.8,1333.9 125.0,1331.8 133.9,1330.6 C142.8,1329.4 148.6,1328.3 154.5,1327.3 C160.3,1326.3 164.0,1325.9 168.8,1324.4 C173.6,1322.9 178.8,1320.4 183.2,1318.3 C187.7,1316.2 190.7,1315.0 195.5,1311.7 C200.3,1308.4 207.2,1302.8 212.0,1298.6 C216.7,1294.3 220.8,1290.7 224.3,1286.2 C227.7,1281.8 229.7,1276.7 232.5,1271.9 C235.2,1267.1 238.0,1262.1 240.7,1257.5 C243.4,1252.9 246.3,1249.1 248.9,1244.4 C251.5,1239.6 254.0,1234.6 256.3,1228.7 C258.6,1222.9 260.6,1214.3 262.6,1209.1 C264.7,1204.0 266.4,1201.3 268.3,1197.8 C270.2,1194.2 272.1,1190.9 274.0,1187.8 C275.9,1184.7 277.6,1182.1 279.7,1179.3 C281.8,1176.4 284.4,1173.4 286.8,1170.7 C289.2,1168.1 291.8,1165.4 293.9,1163.6 C296.1,1161.9 298.0,1161.0 299.6,1160.2 C301.3,1159.4 302.5,1158.8 303.9,1158.8 C305.3,1158.8 306.5,1159.0 308.1,1160.2 C309.8,1161.4 311.9,1163.7 313.8,1165.9 C315.7,1168.1 317.6,1170.9 319.5,1173.6 C321.4,1176.3 323.3,1179.0 325.2,1182.1 C327.1,1185.2 329.0,1188.8 330.9,1192.1 C332.8,1195.4 334.9,1199.0 336.6,1202.0 C338.3,1205.1 339.0,1206.8 341.1,1210.3 C343.2,1213.7 346.5,1218.1 349.3,1222.6 C352.0,1227.0 354.8,1231.5 357.5,1237.0 C360.2,1242.4 363.3,1249.3 365.7,1255.4 C368.1,1261.6 369.8,1269.1 371.9,1273.9 C373.9,1278.7 375.3,1280.4 378.0,1284.2 C380.8,1288.0 384.5,1292.4 388.3,1296.5 C392.1,1300.6 396.2,1305.2 400.6,1308.8 C405.1,1312.5 409.9,1315.7 415.0,1318.3 C420.1,1320.8 425.9,1322.2 431.4,1324.0 C436.9,1325.9 441.0,1327.9 447.8,1329.4 C454.7,1330.9 464.3,1332.0 472.5,1333.1 C480.7,1334.1 488.9,1335.0 497.1,1335.5 C505.3,1336.1 511.4,1336.1 521.8,1336.3 C532.1,1336.6 552.9,1336.7 559.1,1336.8" fill="none" stroke="#55bba0" stroke-width="2.2" stroke-linejoin="round" stroke-linecap="round"/>
<path d="M69.4,1336.8 C78.1,1336.8 105.0,1336.9 121.6,1336.8 C138.2,1336.6 158.6,1336.0 168.8,1335.9 C179.1,1335.9 178.8,1336.6 183.2,1336.3 C187.7,1336.1 192.1,1335.7 195.5,1334.7 C198.9,1333.7 201.0,1332.5 203.7,1330.6 C206.5,1328.7 209.6,1324.8 212.0,1323.2 C214.3,1321.6 216.1,1322.2 218.1,1321.1 C220.2,1320.1 222.6,1319.1 224.3,1317.0 C226.0,1315.0 227.0,1311.9 228.4,1308.8 C229.7,1305.7 230.8,1303.0 232.5,1298.6 C234.2,1294.1 236.6,1287.3 238.6,1282.1 C240.7,1277.0 242.8,1272.6 244.8,1267.8 C246.9,1263.0 248.9,1259.2 251.0,1253.4 C253.0,1247.6 255.4,1239.0 257.1,1232.9 C258.8,1226.7 260.3,1220.4 261.2,1216.4 C262.2,1212.5 261.7,1213.7 262.6,1209.1 C263.6,1204.6 265.5,1195.9 266.9,1189.2 C268.3,1182.6 269.8,1176.0 271.2,1169.3 C272.6,1162.7 274.0,1155.6 275.4,1149.4 C276.9,1143.3 278.4,1137.6 279.7,1132.4 C281.0,1127.1 281.9,1123.6 283.1,1118.1 C284.3,1112.7 285.5,1106.1 286.8,1099.7 C288.1,1093.3 289.7,1086.2 291.1,1079.8 C292.5,1073.4 293.9,1066.5 295.3,1061.3 C296.8,1056.1 298.2,1051.5 299.6,1048.5 C301.0,1045.5 302.6,1044.3 303.9,1043.4 C305.2,1042.4 306.4,1042.4 307.6,1042.8 C308.8,1043.2 309.9,1043.7 311.0,1045.6 C312.0,1047.5 312.9,1050.6 313.8,1054.2 C314.8,1057.7 315.7,1062.2 316.7,1067.0 C317.6,1071.7 318.6,1076.9 319.5,1082.6 C320.5,1088.3 321.3,1094.7 322.4,1101.1 C323.4,1107.5 324.6,1114.4 325.8,1121.0 C327.0,1127.6 328.2,1134.3 329.5,1140.9 C330.7,1147.5 332.0,1154.6 333.2,1160.8 C334.3,1167.0 335.3,1171.7 336.6,1177.9 C337.9,1184.0 339.5,1191.3 340.8,1197.8 C342.1,1204.2 343.1,1209.9 344.4,1216.4 C345.6,1223.0 347.0,1230.1 348.5,1237.0 C350.0,1243.8 351.5,1251.3 353.4,1257.5 C355.2,1263.7 357.2,1268.4 359.5,1273.9 C361.9,1279.4 365.4,1285.6 367.8,1290.3 C370.2,1295.1 371.9,1298.9 373.9,1302.7 C376.0,1306.4 377.7,1309.7 380.1,1312.9 C382.5,1316.2 385.2,1319.8 388.3,1322.4 C391.4,1324.9 395.1,1326.3 398.6,1328.1 C402.0,1330.0 405.4,1332.3 408.8,1333.5 C412.3,1334.6 414.6,1334.6 419.1,1335.1 C423.5,1335.6 428.0,1336.1 435.5,1336.3 C443.1,1336.6 455.4,1336.7 464.3,1336.8 C473.2,1336.8 484.8,1336.8 488.9,1336.8" fill="none" stroke="#4580c0" stroke-width="2.2" stroke-linejoin="round" stroke-linecap="round"/>
</svg></body></html>
